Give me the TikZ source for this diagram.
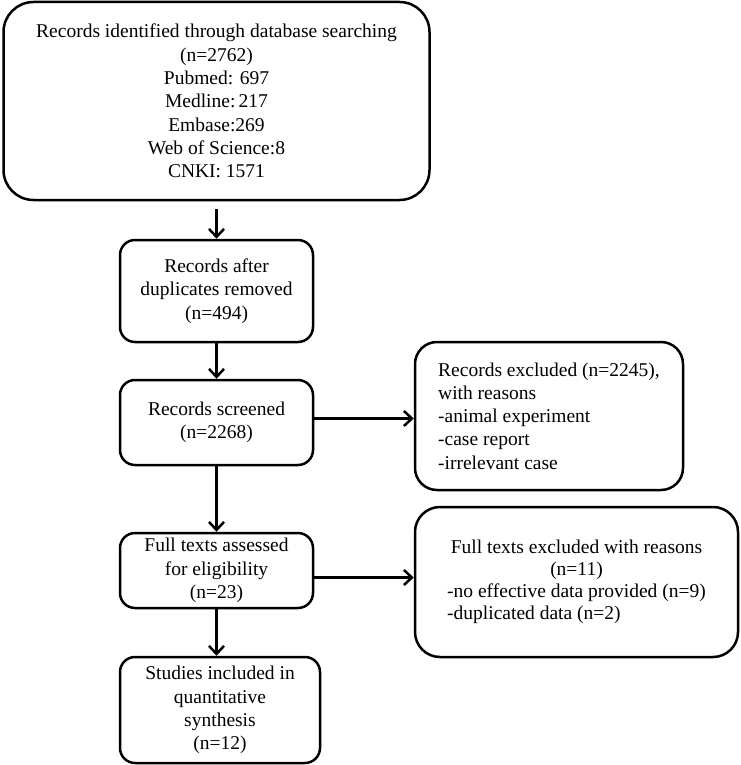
\documentclass[tikz,border=0pt]{standalone}
\usepackage{fontspec}
\setmainfont{Liberation Serif}
\usepackage{tikz}
\usetikzlibrary{calc}
\usetikzlibrary{arrows.meta}
\usetikzlibrary{positioning}
\begin{document}
\begin{tikzpicture}[x=1pt,y=-1pt,
	box/.style={draw,line width=2.5pt,rounded corners=15pt,inner sep=0pt,align=center,font=\fontsize{19.5}{23.3}\selectfont},
	arr/.style={line width=2.5pt,-{Straight Barb[length=8pt,width=15pt]}}]
		\useasboundingbox (0,0) rectangle (740,765);
		\node[box,rounded corners=30pt,minimum width=426pt,minimum height=198pt] (search) at (216.5,101) {Records identified through database searching\\(n=2762)\\Pubmed: 697\\Medline:\,217\\Embase:269\\Web of Science:8\\CNKI: 1571};
		\node[box,minimum width=193pt,minimum height=102pt] (dedup) at (216.5,291) {Records after\\duplicates removed\\(n=494)};
		\node[box,minimum width=193pt,minimum height=85pt] (screen) at (216.5,422.5) {Records screened\\(n=2268)};
		\node[box,rounded corners=22pt,minimum width=268pt,minimum height=148pt,align=left] (excl) at (549,416) {Records excluded (n=2245),\\with reasons\\-animal experiment\\-case report\\-irrelevant case};
		\node[box,minimum width=193pt,minimum height=75pt] (full) at (216.5,570.5) {Full texts assessed\\for eligibility\\(n=23)};
		\node[box,rounded corners=25pt,minimum width=323pt,minimum height=150pt] (ftexcl) at (576.5,582) {\begin{tabular}{@{}l@{}}\multicolumn{1}{@{}c@{}}{Full texts excluded with reasons}\\[-1.3pt]\multicolumn{1}{@{}c@{}}{(n=11)}\\[-1.3pt]-no effective data provided (n=9)\\[-1.3pt]-duplicated data (n=2)\end{tabular}};
		\node[box,minimum width=200pt,minimum height=106pt] (incl) at (220,710) {Studies included in\\quantitative\\synthesis\\(n=12)};
		\draw[arr] ([yshift=-8pt]search.south -| dedup.north) -- (dedup.north);
		\draw[arr] (dedup.south) -- (screen.north);
		\draw[arr] (screen.south) -- (full.north);
		\draw[arr] (full.south) -- (full.south |- incl.north);
		\draw[arr] ([yshift=4pt]screen.east) -- ([yshift=4pt]screen.east -| excl.west);
		\draw[arr] ([yshift=-7pt]full.east) -- ([yshift=-7pt]full.east -| ftexcl.west);
	\end{tikzpicture}
\end{document}
